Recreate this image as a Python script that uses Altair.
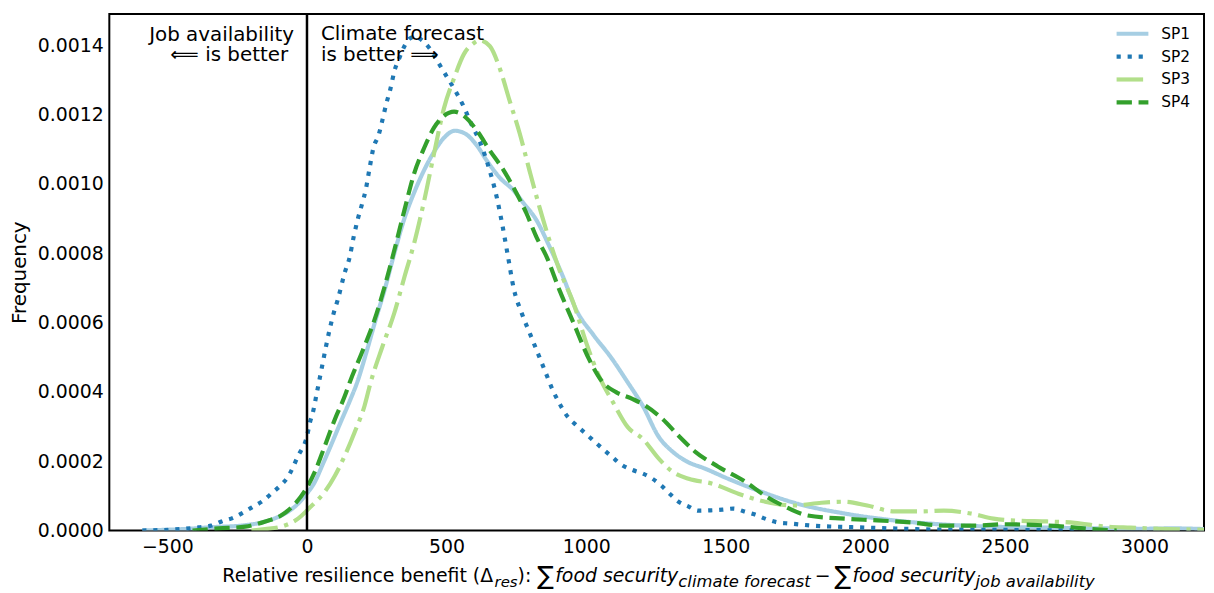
import altair as alt
import pandas as pd

series = ["SP1", "SP2", "SP3", "SP4"]
colors = ["#a6cee3", "#1f78b4", "#b2df8a", "#33a02c"]

sp1_x = [-590, -500, -400, -352, -235, -149, -93, -43, -7, 28, 57, 85, 121, 153, 181, 215, 246, 278, 313,
         349, 384, 420, 455, 490, 530, 566, 609, 644, 690, 740, 776, 822, 868, 918, 964, 1025, 1089, 1149,
         1203, 1260, 1310, 1356, 1427, 1509, 1616, 1758, 1925, 2103, 2281, 2448, 2650, 2850, 3000, 3100, 3213]
sp1_y = [0, 0.000002, 0.000006, 0.000009, 0.000014, 0.000026, 0.000043, 0.000069, 0.0001, 0.00014, 0.000192,
         0.000244, 0.000313, 0.000373, 0.00043, 0.00052, 0.000608, 0.000694, 0.0008, 0.0009, 0.000975,
         0.00104, 0.001092, 0.001132, 0.001153, 0.001145, 0.00111, 0.001067, 0.001018, 0.000981, 0.000944,
         0.000895, 0.00082, 0.00073, 0.000637, 0.000565, 0.000499, 0.000427, 0.000359, 0.00027, 0.000227,
         0.000201, 0.000178, 0.000149, 0.000115, 0.000077, 0.000049, 0.000029, 0.000017, 0.000011, 0.000008,
         0.000006, 0.000005, 0.000006, 0.000004]

sp2_x = [-590, -470, -388, -342, -306, -263, -228, -192, -157, -128, -96, -68, -32, 0, 11, 21, 36, 96, 110,
         135, 153, 167, 181, 199, 210, 224, 238, 256, 267, 285, 299, 313, 331, 349, 370, 390, 410, 440, 470,
         500, 530, 560, 590, 620, 650, 680, 700, 720, 740, 770, 800, 830, 860, 880, 900, 930, 970, 1000,
         1032, 1064, 1093, 1128, 1164, 1203, 1238, 1270, 1299, 1331, 1367, 1402, 1445, 1488, 1527, 1566,
         1605, 1648, 1687, 1730, 1808, 1890, 1972, 2093, 2221, 2400, 2600, 2750]
sp2_y = [0, 0.000003, 0.000009, 0.000014, 0.000026, 0.000037, 0.000052, 0.000069, 0.000086, 0.000106,
         0.000129, 0.000155, 0.000215, 0.000272, 0.000313, 0.00034, 0.0004, 0.000628, 0.000665, 0.000743,
         0.000789, 0.000846, 0.000895, 0.000947, 0.000981, 0.001044, 0.001104, 0.001139, 0.001173, 0.001234,
         0.001274, 0.001325, 0.001363, 0.001397, 0.00142, 0.001425, 0.001415, 0.00139, 0.00135, 0.00131,
         0.00127, 0.001225, 0.00117, 0.00112, 0.00105, 0.00096, 0.00088, 0.00079, 0.0007, 0.000625,
         0.000565, 0.000505, 0.000445, 0.000405, 0.000373, 0.000332, 0.0003, 0.000278, 0.000255, 0.000232,
         0.000212, 0.000189, 0.000175, 0.000164, 0.000149, 0.000129, 0.000106, 0.000083, 0.000069, 0.000057,
         0.000058, 0.00006, 0.000063, 0.000055, 0.000046, 0.000032, 0.000023, 0.00002, 0.000014, 0.000011,
         0.000009, 0.000006, 0.000003, 0.000002, 0.000001, 0]

sp3_x = [-199, -150, -93, -32, 14, 64, 100, 135, 171, 206, 228, 270, 313, 349, 384, 420, 455, 491, 527, 562,
         598, 619, 655, 690, 726, 762, 797, 833, 868, 904, 954, 1000, 1046, 1096, 1149, 1203, 1260, 1310,
         1367, 1452, 1545, 1641, 1747, 1843, 1925, 2007, 2103, 2199, 2281, 2377, 2459, 2550, 2650, 2750,
         2850, 2950, 3050, 3213]
sp3_y = [0, 0.000004, 0.000011, 0.000034, 0.000069, 0.000112, 0.000158, 0.000215, 0.000284, 0.000359,
         0.000427, 0.00053, 0.000628, 0.000731, 0.000829, 0.000952, 0.001087, 0.001219, 0.001305, 0.001374,
         0.001406, 0.001414, 0.001397, 0.001334, 0.001239, 0.001145, 0.001038, 0.000932, 0.000838, 0.000752,
         0.000657, 0.000542, 0.000445, 0.00037, 0.000298, 0.000264, 0.000207, 0.000169, 0.000149, 0.000135,
         0.000106, 0.000083, 0.000072, 0.00008, 0.000083, 0.000072, 0.000055, 0.000055, 0.000057, 0.000049,
         0.000034, 0.000028, 0.000026, 0.000022, 0.000012, 0.000008, 0.000005, 0.000002]

sp4_x = [-410, -317, -221, -149, -93, -43, -7, 28, 64, 100, 135, 153, 200, 242, 278, 313, 349, 384, 420, 455,
         491, 527, 562, 609, 655, 705, 751, 786, 822, 858, 904, 954, 1011, 1060, 1107, 1167, 1214, 1274, 1331,
         1391, 1473, 1569, 1641, 1712, 1794, 1925, 2043, 2164, 2281, 2399, 2500, 2600, 2700, 2800, 2900]
sp4_y = [0, 0.000006, 0.000011, 0.000026, 0.000043, 0.000077, 0.000115, 0.000169, 0.000244, 0.000321,
         0.000387, 0.000427, 0.00052, 0.000608, 0.000703, 0.000809, 0.000924, 0.00103, 0.001104, 0.001162,
         0.001196, 0.001208, 0.001196, 0.001153, 0.001096, 0.001038, 0.000972, 0.000915, 0.000846, 0.00079,
         0.000694, 0.0006, 0.000493, 0.000427, 0.000399, 0.000379, 0.000359, 0.000321, 0.000273, 0.000227,
         0.000184, 0.000141, 0.0001, 0.000069, 0.000043, 0.000034, 0.000029, 0.000023, 0.000014, 0.000014,
         0.000018, 0.000016, 0.000012, 0.000005, 0]

x_ticks = [-500, 0, 500, 1000, 1500, 2000, 2500, 3000]
y_ticks = [0, 0.0002, 0.0004, 0.0006, 0.0008, 0.0010, 0.0012, 0.0014]

rows = []
for name, xs, ys in zip(series, [sp1_x, sp2_x, sp3_x, sp4_x], [sp1_y, sp2_y, sp3_y, sp4_y]):
    for i, (a, b) in enumerate(zip(xs, ys)):
        rows.append({"series": name, "x": a, "y": b, "order": i})
df = pd.DataFrame(rows)
legend_df = pd.DataFrame({"series": series, "row": list(range(len(series)))})

FONT = "DejaVu Sans"
W, H = 1102, 520
x_dom = [-708, 3213]
y_dom = [0, 0.00149]
dashes = [[1, 0], [4.2, 6.9], [26.7, 6.7, 4.2, 6.7], [15.4, 6.7]]

color_enc = alt.Color("series:N", scale=alt.Scale(domain=series, range=colors), legend=None)
dash_enc = alt.StrokeDash("series:N", scale=alt.Scale(domain=series, range=dashes), legend=None)

xs = alt.X("x:Q", scale=alt.Scale(domain=x_dom, nice=False, zero=False),
           axis=alt.Axis(values=x_ticks, title=None, labelPadding=7, labelFontSize=19, format="d"))
ys = alt.Y("y:Q", scale=alt.Scale(domain=y_dom, nice=False),
           axis=alt.Axis(values=y_ticks, format=".4f", title="Frequency", labelFontSize=19,
                         labelPadding=6, titleFontSize=20, titlePadding=8, titleFontWeight="normal",
                         titleFont=FONT, titleColor="black"))

lines = alt.Chart(df).mark_line(strokeWidth=4.2, interpolate="monotone", clip=True).encode(
    x=xs, y=ys, color=color_enc, strokeDash=dash_enc, order="order:Q",
)

zero = alt.Chart(pd.DataFrame({"x": [0]})).mark_rule(color="black", strokeWidth=2.5).encode(x="x:Q")

# legend (top right, no frame)
leg_y = alt.Y("row:Q", scale=alt.Scale(domain=[0, 3], range=[20, 89]), axis=None)
leg_lines = alt.Chart(legend_df).mark_rule(strokeWidth=4.2).encode(
    x=alt.value(1014), x2=alt.value(1046), y=leg_y, color=color_enc, strokeDash=dash_enc
)
leg_text = alt.Chart(legend_df).mark_text(
    align="left", baseline="middle", font=FONT, fontSize=15.5, color="black", dx=0
).encode(x=alt.value(1059), y=leg_y, text="series:N")
legend_layer = alt.layer(leg_lines, leg_text)


def ann(text, dx, ypix, align):
    return alt.Chart(pd.DataFrame({"x": [0], "t": [text]})).mark_text(
        align=align, baseline="alphabetic", dx=dx, font=FONT, fontSize=20, color="black"
    ).encode(x="x:Q", y=alt.value(ypix), text="t:N")


anns = [
    ann("Job availability", -13, 27, "right"),
    ann("\u27f8 is better", -19, 47, "right"),
    ann("Climate forecast", 14, 26, "left"),
    ann("is better \u27f9", 14, 47, "left"),
]

# x-axis title composed of pieces (regular, italic, subscripts)
EM = {' ': .318, '(': .390, ')': .390, ':': .337, 'R': .695, 'a': .613, 'b': .635, 'c': .550, 'd': .635,
      'e': .615, 'f': .352, 'i': .278, 'j': .278, 'l': .278, 'm': .974, 'n': .634, 'o': .612, 'r': .411,
      's': .521, 't': .392, 'u': .634, 'v': .592, 'y': .592, '\u0394': .684, '\u2211': .72, '\u2212': .838}


def width(s, size):
    return sum(EM.get(c, .6) for c in s) * size


pieces = [
    ("Relative resilience benefit (\u0394", 19, "normal", 0, 0),
    ("res", 15, "italic", 5, 0),
    ("): ", 19, "normal", 0, 0),
    ("\u2211", 25, "normal", 2, 0),
    ("food security", 19, "italic", 0, 0),
    ("climate forecast", 16.5, "italic", 5, 4),
    ("\u2212", 19, "normal", 0, 4),
    ("\u2211", 25, "normal", 2, 0),
    ("food security", 19, "italic", 0, 0),
    ("job availability", 16.5, "italic", 5, 0),
]
total = sum(width(p[0], p[1]) + p[4] for p in pieces)
cx = (663 - 110) - total / 2
base_y = 572
title_layers = []
for text, size, style, dy, gap in pieces:
    title_layers.append(
        alt.Chart(pd.DataFrame({"t": [text]})).mark_text(
            align="left", baseline="alphabetic", font=FONT, fontSize=size, fontStyle=style, color="black"
        ).encode(x=alt.value(cx), y=alt.value(base_y + dy), text="t:N")
    )
    cx += width(text, size) + gap

main = alt.layer(lines, zero, *anns, *title_layers)

chart = alt.layer(main, legend_layer).resolve_scale(y="independent").properties(
    width=W, height=H,
    autosize=alt.AutoSizeParams(type="none"),
    padding={"left": 102, "top": 4, "right": 2, "bottom": 61},
    background="white",
).configure_view(stroke="black", strokeWidth=2).configure_axis(
    domain=False, ticks=False, grid=False, labelColor="black", labelFont=FONT
)

chart.save("out.html", embed_options={"renderer": "svg", "actions": False})
